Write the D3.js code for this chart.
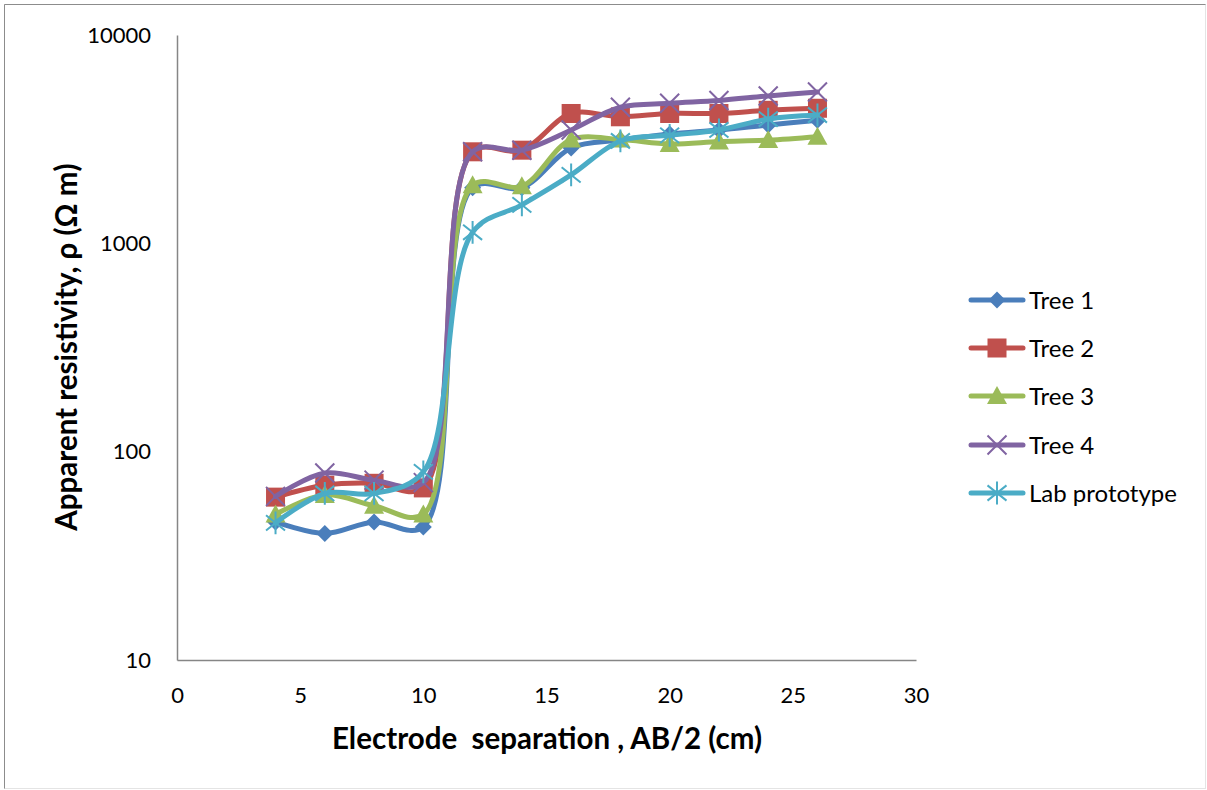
<!DOCTYPE html>
<html>
<head>
<meta charset="utf-8">
<script src="https://cdn.jsdelivr.net/npm/d3@7"></script>
<style>
  html, body { margin: 0; padding: 0; background: #fff; }
  svg { display: block; }
  text { font-family: Lato, "Open Sans", sans-serif; fill: #000; }
</style>
</head>
<body>
<svg id="chart" width="1207" height="790"></svg>
<script>
// ---- data ----
const separation = [4, 6, 8, 10, 12, 14, 16, 18, 20, 22, 24, 26];
const tree1 = [46, 40.5, 46, 43.5, 1850, 1850, 2870, 3130, 3350, 3500, 3700, 3900];
const tree2 = [60.5, 69, 70.5, 67, 2750, 2800, 4200, 4050, 4200, 4200, 4350, 4450];
const tree3 = [50, 62, 55, 50, 1900, 1880, 3150, 3150, 3000, 3080, 3130, 3250];
const tree4 = [61, 79, 73, 71, 2750, 2800, 3500, 4500, 4700, 4850, 5100, 5330];
const labPrototype = [45.5, 63, 63, 80, 1130, 1530, 2130, 3100, 3300, 3500, 3950, 4130];
const seriesNames = ["Tree 1", "Tree 2", "Tree 3", "Tree 4", "Lab prototype"];
const xTicks = [0, 5, 10, 15, 20, 25, 30];
const yTicks = [10, 100, 1000, 10000];
const xTitle = "Electrode  separation , AB/2 (cm)";
const yTitle = "Apparent resistivity, ρ (Ω m)";

const seriesValues = [tree1, tree2, tree3, tree4, labPrototype];
const colors = ["#4A7EBB", "#C0504D", "#9BBB59", "#8064A2", "#4BACC6"];
const markers = ["diamond", "square", "triangle", "x", "star"];

const svg = d3.select("#chart");

// outer border
svg.append("rect").attr("x", 4.5).attr("y", 4.5).attr("width", 1201).attr("height", 784)
  .attr("fill", "#fff").attr("stroke", "#e4e4e4");
svg.append("path").attr("d", "M4.5,788.5V4.5H1205.5").attr("fill", "none").attr("stroke", "#8c8c8c");

const x = d3.scaleLinear().domain([0, 30]).range([177, 916]);
const y = d3.scaleLog().domain([10, 10000]).range([660, 35]);

// axes (no ticks)
const xAxis = svg.append("g").attr("transform", "translate(0,660)")
  .call(d3.axisBottom(x).tickValues(xTicks).tickSize(0).tickPadding(27).tickFormat(d3.format("d")));
const yAxis = svg.append("g").attr("transform", "translate(177,0)")
  .call(d3.axisLeft(y).tickValues(yTicks).tickSize(0).tickPadding(26).tickFormat(d3.format("d")));
[xAxis, yAxis].forEach(g => {
  g.select(".domain").attr("stroke", "#868686").attr("stroke-width", 1.5);
  g.selectAll("text").attr("font-size", 22).attr("font-family", "Lato, sans-serif").attr("fill", "#000");
});
xAxis.selectAll("text").attr("dy", "0.71em");

// titles
svg.append("text").attr("x", 547).attr("y", 749).attr("text-anchor", "middle")
  .attr("font-size", 29.5).attr("font-weight", "bold").style("white-space", "pre").text(xTitle);
svg.append("text").attr("transform", "translate(77,347) rotate(-90)").attr("text-anchor", "middle")
  .attr("font-size", 29.5).attr("font-weight", "bold").text(yTitle);

// lines
const line = d3.line().x(d => x(d[0])).y(d => y(d[1])).curve(d3.curveCatmullRom.alpha(0.5));

function drawMarker(g, type, cx, cy, color, s) {
  s = s || 1;
  if (type === "diamond") {
    const r = 8.5 * s;
    g.append("path").attr("d", `M${cx},${cy - r}L${cx + r},${cy}L${cx},${cy + r}L${cx - r},${cy}Z`).attr("fill", color);
  } else if (type === "square") {
    const r = 9.5 * s;
    g.append("rect").attr("x", cx - r).attr("y", cy - r).attr("width", 2 * r).attr("height", 2 * r).attr("fill", color);
  } else if (type === "triangle") {
    const r = 10 * s;
    g.append("path").attr("d", `M${cx},${cy - r}L${cx + r},${cy + r * 0.8}L${cx - r},${cy + r * 0.8}Z`).attr("fill", color);
  } else if (type === "x") {
    const r = 9.5 * s;
    g.append("path").attr("d", `M${cx - r},${cy - r}L${cx + r},${cy + r}M${cx - r},${cy + r}L${cx + r},${cy - r}`)
      .attr("stroke", color).attr("stroke-width", 2).attr("fill", "none");
  } else if (type === "star") {
    const r = 9.5 * s;
    g.append("path").attr("d", `M${cx - r},${cy - r * 0.8}L${cx + r},${cy + r * 0.8}M${cx - r},${cy + r * 0.8}L${cx + r},${cy - r * 0.8}M${cx},${cy - r * 1.2}L${cx},${cy + r * 1.2}`)
      .attr("stroke", color).attr("stroke-width", 2).attr("fill", "none");
  }
}

seriesValues.forEach((vals, i) => {
  const pts = separation.map((s, j) => [s, vals[j]]);
  const g = svg.append("g");
  g.append("path").attr("d", line(pts)).attr("fill", "none").attr("stroke", colors[i])
    .attr("stroke-width", 5).attr("stroke-linecap", "round").attr("stroke-linejoin", "round");
  pts.forEach(p => drawMarker(g, markers[i], x(p[0]), y(p[1]), colors[i]));
});

// legend
const legendY = [300, 348, 396, 445, 493];
seriesNames.forEach((name, i) => {
  const g = svg.append("g");
  g.append("line").attr("x1", 971).attr("x2", 1023).attr("y1", legendY[i]).attr("y2", legendY[i])
    .attr("stroke", colors[i]).attr("stroke-width", 5).attr("stroke-linecap", "round");
  drawMarker(g, markers[i], 997, legendY[i], colors[i]);
  g.append("text").attr("x", 1029).attr("y", legendY[i]).attr("dy", "0.36em")
    .attr("font-size", 24).text(name);
});
</script>
</body>
</html>
